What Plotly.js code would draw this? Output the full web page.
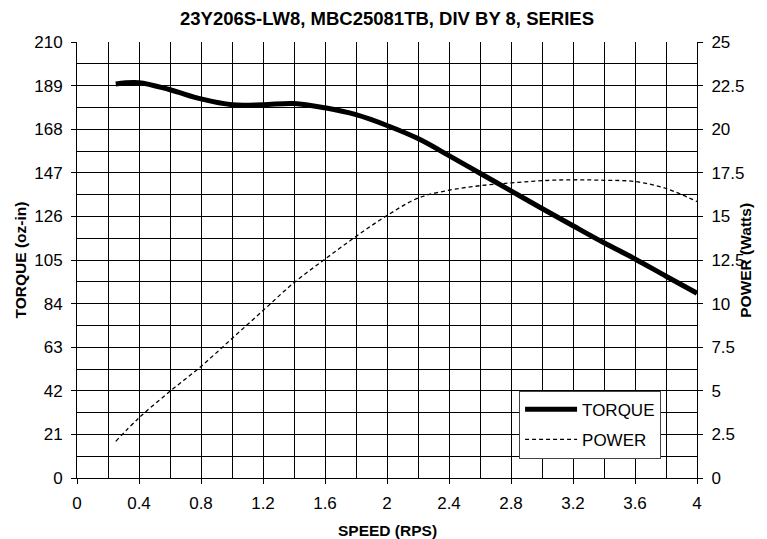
<!DOCTYPE html>
<html>
<head>
<meta charset="utf-8">
<script src="https://cdn.plot.ly/plotly-3.0.1.min.js"></script>
<style>html,body{margin:0;padding:0;background:#fff;}#chart{width:767px;height:539px;}</style>
</head>
<body>
<div id="chart"></div>
<script>
const chartTitle = "23Y206S-LW8, MBC25081TB, DIV BY 8, SERIES";
const speed = [0.25,0.4,0.6,0.8,1.0,1.2,1.4,1.6,1.8,2.0,2.2,2.4,2.6,2.8,3.0,3.2,3.4,3.6,3.8,4.0];
const torque = [189.8,190.4,187,182.6,179.8,179.8,180.4,178.3,175,169.8,163.5,155.3,146.8,138.3,129.8,121.5,113.3,105.5,97.2,89];
const power = [2.1,3.45,4.97,6.4,8.0,9.6,11.2,12.55,13.85,15.05,16.05,16.5,16.76,16.92,17.05,17.1,17.07,17.0,16.6,15.85];
const torqueTicks = [0,21,42,63,84,105,126,147,168,189,210];
const powerTicks = [0,2.5,5,7.5,10,12.5,15,17.5,20,22.5,25];
const speedTicks = [0,0.4,0.8,1.2,1.6,2,2.4,2.8,3.2,3.6,4];

const FONT = "Arial, 'Liberation Sans', sans-serif";

const traces = [
  {x: speed, y: torque, name: "TORQUE", type: "scatter", mode: "lines",
   line: {color: "#000", width: 5, shape: "spline"}, legendgroup: "a", yaxis: "y"},
  {x: speed, y: power, name: "POWER", type: "scatter", mode: "lines",
   line: {color: "#000", width: 1.3, dash: "4px,3px", shape: "spline"}, legendgroup: "b", yaxis: "y2"}
];

const layout = {
  width: 767, height: 539,
  margin: {l: 77, r: 70, t: 42, b: 61},
  paper_bgcolor: "#fff", plot_bgcolor: "#fff",
  font: {family: FONT, color: "#000", size: 17},
  title: {text: "<b>" + chartTitle + "</b>", font: {family: FONT, size: 18.5, color: "#000"},
          x: 0.5, xanchor: "center", xref: "paper", y: 0.966, yanchor: "middle"},
  showlegend: true,
  legend: {x: 0.713, y: 0.2, xanchor: "left", yanchor: "top",
           bgcolor: "#fff", bordercolor: "#444", borderwidth: 1,
           font: {family: FONT, size: 17, color: "#000"},
           itemwidth: 52,
           traceorder: "grouped", tracegroupgap: 5},
  xaxis: {range: [0, 4], tickvals: speedTicks, ticktext: speedTicks.map(String),
          ticks: "outside", ticklen: 5, tickcolor: "#000", ticklabelstandoff: 5,
          showgrid: true, gridcolor: "#000", gridwidth: 1,
          minor: {dtick: 0.2, tick0: 0, showgrid: true, gridcolor: "#000", gridwidth: 1},
          showline: true, linecolor: "#000", linewidth: 1, mirror: false, zeroline: false,
          tickfont: {family: FONT, size: 17, color: "#000"}},
  yaxis: {range: [0, 210], tickvals: torqueTicks, ticktext: torqueTicks.map(String),
          ticks: "outside", ticklen: 5, tickcolor: "#000", ticklabelstandoff: 5,
          showgrid: true, gridcolor: "#000", gridwidth: 1,
          minor: {dtick: 10.5, tick0: 0, showgrid: true, gridcolor: "#000", gridwidth: 1},
          showline: true, linecolor: "#000", linewidth: 1, zeroline: false,
          tickfont: {family: FONT, size: 17, color: "#000"},
          title: {text: "<b>TORQUE (oz-in)</b>", font: {family: FONT, size: 15.5, color: "#000"}, standoff: 3}},
  yaxis2: {range: [0, 25], tickvals: powerTicks, ticktext: powerTicks.map(String),
           overlaying: "y", side: "right",
           ticks: "outside", ticklen: 5, tickcolor: "#000", ticklabelstandoff: 5,
           showgrid: false, showline: true, linecolor: "#000", linewidth: 1, zeroline: false,
           tickfont: {family: FONT, size: 17, color: "#000"}},
  annotations: [
    {text: "<b>SPEED (RPS)</b>", xref: "paper", yref: "paper", x: 0.5, y: -0.1215,
     xanchor: "center", yanchor: "middle", showarrow: false,
     font: {family: FONT, size: 15.5, color: "#000"}},
    {text: "<b>POWER (Watts)</b>", xref: "paper", yref: "paper", x: 1.077, y: 0.5,
     xanchor: "center", yanchor: "middle", textangle: -90, showarrow: false,
     font: {family: FONT, size: 15.5, color: "#000"}}
  ]
};

Plotly.newPlot("chart", traces, layout, {displayModeBar: false, staticPlot: true});
</script>
</body>
</html>
